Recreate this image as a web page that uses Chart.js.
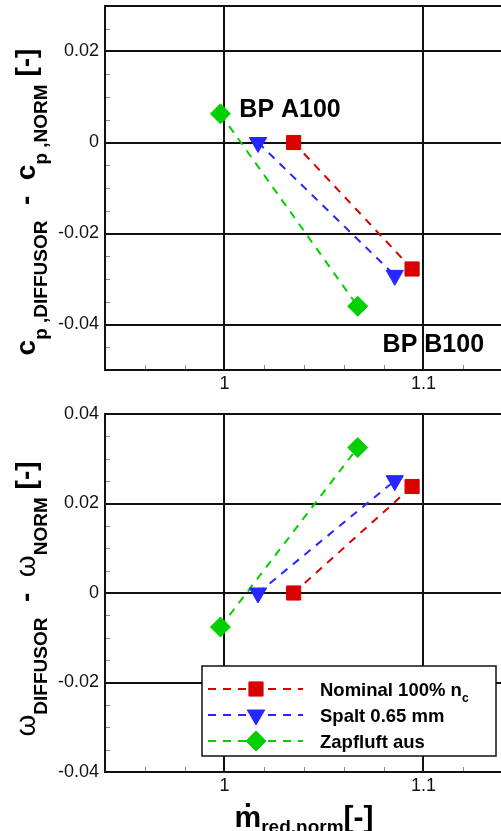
<!DOCTYPE html>
<html><head><meta charset="utf-8">
<script src="https://cdn.jsdelivr.net/npm/chart.js@4"></script>
<style>
html,body{margin:0;padding:0;background:#fff;overflow:hidden;width:501px;height:831px;}
canvas{position:absolute;left:0;}
#c1{top:0}
#c2{top:400px}
</style></head><body>
<canvas id="c1" width="520" height="400"></canvas>
<canvas id="c2" width="520" height="431"></canvas>
<script>
// ---- data ----
const seriesNames = ['Nominal 100% n_c', 'Spalt 0.65 mm', 'Zapfluft aus'];
const seriesColors = ['#d90000', '#2626ff', '#00d000'];
const seriesMarkers = ['rect', 'triangle', 'rectRot'];
const seriesRotation = [0, 180, 0];

const massFlowNominal = [1.0348, 1.0943];
const massFlowSpalt = [1.0169, 1.0856];
const massFlowZapf = [0.998, 1.067];

const cpNominal = [0, -0.0278];
const cpSpalt = [0, -0.0292];
const cpZapf = [0.0063, -0.036];

const omegaNominal = [0, 0.0238];
const omegaSpalt = [0, 0.0251];
const omegaZapf = [-0.0076, 0.0325];

const xTicks = [1, 1.1];
const xMinorTicks = [0.96, 0.98, 1.02, 1.04, 1.06, 1.08, 1.12];
const cpTicks = [-0.04, -0.02, 0, 0.02];
const cpMinorTicks = [0.025, 0.015, 0.01, 0.005, -0.005, -0.01, -0.015, -0.025, -0.03, -0.035, -0.045];
const omegaTicks = [-0.04, -0.02, 0, 0.02, 0.04];
const omegaMinorTicks = [0.035, 0.03, 0.025, 0.015, 0.01, 0.005, -0.005, -0.01, -0.015, -0.025, -0.03, -0.035];

const annotations = [
  {text: 'BP A100', x: 1.0075, y: 0.0057},
  {text: 'BP B100', x: 1.0795, y: -0.046}
];

// ---- helpers ----
const FONT = '"Liberation Sans", Arial, Helvetica, sans-serif';

function makeDatasets(xs, ys) {
  return seriesNames.map((name, i) => ({
    label: name,
    data: xs[i].map((x, k) => ({x: x, y: ys[i][k]})),
    borderColor: seriesColors[i],
    backgroundColor: seriesColors[i],
    pointBackgroundColor: seriesColors[i],
    pointBorderColor: seriesColors[i],
    pointBorderWidth: 1,
    pointStyle: seriesMarkers[i],
    pointRotation: seriesRotation[i],
    pointRadius: 10,
    pointHoverRadius: 10,
    borderWidth: 2,
    borderDash: [8, 7],
    fill: false,
    tension: 0,
    clip: false
  }));
}

function fmt(v) {
  const s = Number(v.toFixed(3)).toString();
  return s === '-0' ? '0' : s;
}

// runs: [{t, size, weight, dy}]
function drawRuns(ctx, runs, cx, cy, rotate, align) {
  ctx.save();
  ctx.translate(cx, cy);
  if (rotate) ctx.rotate(-Math.PI / 2);
  let total = 0;
  const ws = runs.map(r => {
    ctx.font = (r.weight || 'bold') + ' ' + r.size + 'px ' + (r.family || FONT);
    const w = ctx.measureText(r.t).width;
    total += w;
    return w;
  });
  let x = align === 'left' ? 0 : -total / 2;
  ctx.fillStyle = '#000';
  ctx.textBaseline = 'alphabetic';
  ctx.textAlign = 'left';
  runs.forEach((r, i) => {
    ctx.font = (r.weight || 'bold') + ' ' + r.size + 'px ' + (r.family || FONT);
    ctx.fillText(r.t, x, r.dy || 0);
    x += ws[i];
  });
  ctx.restore();
}

const framePlugin = {
  id: 'frameAndExtras',
  afterDatasetsDraw(chart, args, opts) {
    const ctx = chart.ctx;
    const a = chart.chartArea;
    const xs = chart.scales.x, ys = chart.scales.y;
    ctx.save();
    // minor ticks
    ctx.strokeStyle = '#8a8a8a';
    ctx.lineWidth = 1;
    ctx.beginPath();
    opts.yMinor.forEach(v => {
      const py = Math.round(ys.getPixelForValue(v)) + 0.5;
      ctx.moveTo(a.left, py); ctx.lineTo(a.left + 5, py);
    });
    xMinorTicks.forEach(v => {
      const px = Math.round(xs.getPixelForValue(v)) + 0.5;
      ctx.moveTo(px, a.bottom); ctx.lineTo(px, a.bottom - 5);
    });
    ctx.stroke();
    // frame
    ctx.strokeStyle = '#111';
    ctx.lineWidth = 2;
    ctx.strokeRect(a.left, a.top, a.right - a.left, a.bottom - a.top);
    // annotations
    if (opts.annotations) {
      ctx.fillStyle = '#000';
      ctx.font = 'bold 25px ' + FONT;
      ctx.textAlign = 'left';
      ctx.textBaseline = 'alphabetic';
      opts.annotations.forEach(an => {
        ctx.fillText(an.text, xs.getPixelForValue(an.x), ys.getPixelForValue(an.y));
      });
    }
    // legend
    if (opts.legend) {
      const L = opts.legend;
      const lx = a.right - L.rightGap - L.w, ly = a.bottom - L.bottomGap - L.h;
      ctx.fillStyle = '#fff';
      ctx.fillRect(lx, ly, L.w, L.h);
      ctx.strokeStyle = '#111';
      ctx.lineWidth = 1.5;
      ctx.strokeRect(lx, ly, L.w, L.h);
      chart.data.datasets.forEach((ds, i) => {
        const cy = ly + 23 + i * 26;
        ctx.save();
        ctx.strokeStyle = ds.borderColor;
        ctx.lineWidth = 2;
        ctx.setLineDash([8, 7]);
        ctx.beginPath();
        ctx.moveTo(lx + 6, cy); ctx.lineTo(lx + 101, cy);
        ctx.stroke();
        ctx.restore();
        ctx.fillStyle = ds.pointBackgroundColor;
        ctx.strokeStyle = ds.pointBorderColor;
        ctx.lineWidth = 1;
        Chart.helpers.drawPoint(ctx, {pointStyle: ds.pointStyle, rotation: ds.pointRotation, radius: 10, borderWidth: 1}, lx + 54, cy);
        const parts = ds.label.split('_');
        const runs = [{t: parts[0], size: 18.5, dy: 0}];
        if (parts[1]) runs.push({t: parts[1], size: 12, dy: 6});
        drawRuns(ctx, runs, lx + 118, cy + 7, false, 'left');
      });
    }
    ctx.restore();
    // titles
    if (opts.yTitle) drawRuns(ctx, opts.yTitle.runs, opts.yTitle.x, opts.yTitle.y, true);
    if (opts.xTitle) {
      const t = opts.xTitle;
      const cx = (a.left + a.right) / 2;
      ctx.save();
      let total = 0;
      const ws = t.runs.map(r => { ctx.font = 'bold ' + r.size + 'px ' + FONT; const w = ctx.measureText(r.t).width; total += w; return w; });
      ctx.restore();
      const x0 = cx - total / 2;
      drawRuns(ctx, t.runs, x0, t.y, false, 'left');
      ctx.save();
      ctx.fillStyle = '#000';
      ctx.fillRect(x0 + ws[0] / 2 - 2, t.y - 24, 4, 4);
      ctx.restore();
    }
  }
};

function sizeHooks(width, height) {
  return {
    afterFit(scale) {
      if (width != null) scale.width = width;
      if (height != null) scale.height = height;
      scale.paddingTop = 0; scale.paddingBottom = 0;
      scale.paddingLeft = 0; scale.paddingRight = 0;
    }
  };
}

function makeChart(id, xs, ys, yMin, yMax, yTicks, yMinor, padTop, xHeight, pluginOpts) {
  return new Chart(document.getElementById(id), {
    type: 'line',
    data: {datasets: makeDatasets(xs, ys)},
    options: {
      responsive: false,
      animation: false,
      devicePixelRatio: 1,
      layout: {autoPadding: false, padding: {top: padTop, right: 17, left: 0, bottom: 0}},
      plugins: {
        legend: {display: false},
        tooltip: {enabled: false},
        frameAndExtras: Object.assign({yMinor: yMinor}, pluginOpts)
      },
      scales: {
        x: Object.assign({
          type: 'linear', min: 0.94, max: 1.14,
          afterBuildTicks(s) { s.ticks = xTicks.map(v => ({value: v})); },
          ticks: {callback: v => fmt(v), color: '#111', font: {family: FONT, size: 18}, padding: 3, maxRotation: 0, autoSkip: false},
          grid: {color: '#111', lineWidth: 2, drawTicks: false},
          border: {display: false}
        }, sizeHooks(null, xHeight)),
        y: Object.assign({
          type: 'linear', min: yMin, max: yMax,
          afterBuildTicks(s) { s.ticks = yTicks.map(v => ({value: v})); },
          ticks: {callback: v => fmt(v), color: '#111', font: {family: FONT, size: 18}, padding: 6, autoSkip: false},
          grid: {color: '#111', lineWidth: 2, drawTicks: false},
          border: {display: false}
        }, sizeHooks(105, null))
      }
    },
    plugins: [framePlugin]
  });
}

makeChart('c1', [massFlowNominal, massFlowSpalt, massFlowZapf], [cpNominal, cpSpalt, cpZapf],
  -0.05, 0.03, cpTicks, cpMinorTicks, 6, 30, {
    annotations: annotations,
    yTitle: {x: 35, y: 202, runs: [
      {t: 'c', size: 28}, {t: 'p ,DIFFUSOR', size: 19, dy: 12},
      {t: '  -  ', size: 28}, {t: 'c', size: 28}, {t: 'p ,NORM', size: 19, dy: 12},
      {t: ' [-]', size: 28}
    ]}
  });

makeChart('c2', [massFlowNominal, massFlowSpalt, massFlowZapf], [omegaNominal, omegaSpalt, omegaZapf],
  -0.04, 0.04, omegaTicks, omegaMinorTicks, 14, 59, {
    legend: {w: 294, h: 90, rightGap: 7, bottomGap: 16},
    yTitle: {x: 35, y: 599 - 400, runs: [
      {t: 'ω', size: 28, weight: 'normal'}, {t: 'DIFFUSOR', size: 19, dy: 12},
      {t: '  -  ', size: 28}, {t: 'ω', size: 28, weight: 'normal'}, {t: 'NORM', size: 19, dy: 12},
      {t: ' [-]', size: 28}
    ]},
    xTitle: {y: 427, runs: [
      {t: 'm', size: 30}, {t: 'red.norm', size: 19, dy: 6}, {t: '[-]', size: 30}
    ]}
  });
</script>
</body></html>
